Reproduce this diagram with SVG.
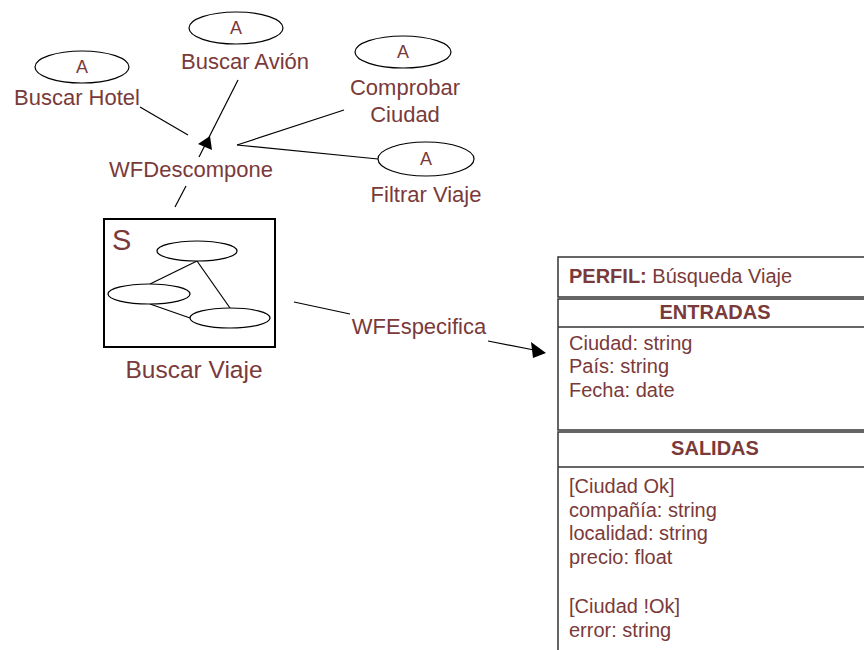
<svg xmlns="http://www.w3.org/2000/svg" width="864" height="650" viewBox="0 0 864 650">
  <style>
    text { font-family: "Liberation Sans", Arial, sans-serif; fill: #7a3a3a; }
    .lbl { font-size: 22px; text-anchor: middle; }
    .a { font-size: 18px; text-anchor: middle; }
    .oval { fill: #ffffff; stroke: #000000; stroke-width: 1.2; }
    .conn { stroke: #000000; stroke-width: 1.2; fill: none; }
    .head { fill: #000000; stroke: none; }
    .panel { fill: #ffffff; stroke: #333333; stroke-width: 1.5; }
    .ptxt { font-size: 20px; }
    .phdr { font-size: 20px; font-weight: bold; text-anchor: middle; }
  </style>

  <rect width="864" height="650" fill="#ffffff"/>

  <!-- connectors -->
  <g id="connectors">
    <line class="conn" x1="140" y1="107" x2="188" y2="135"/>
    <line class="conn" x1="238" y1="80" x2="199" y2="157"/>
    <line class="conn" x1="186" y1="186" x2="175" y2="207"/>
    <polygon class="head" points="198,144 210,136 212,150"/>
    <line class="conn" x1="344" y1="110" x2="237" y2="145"/>
    <line class="conn" x1="237" y1="145" x2="378" y2="159"/>
    <line class="conn" x1="294" y1="302" x2="350" y2="314"/>
    <line class="conn" x1="488" y1="341" x2="534" y2="350"/>
    <polygon class="head" points="531,342 546,353 533,358"/>
  </g>

  <!-- atomic activities -->
  <g id="buscar-hotel">
    <ellipse class="oval" cx="82" cy="67" rx="47" ry="16"/>
    <text class="a" x="82" y="73">A</text>
    <text class="lbl" x="77" y="105">Buscar Hotel</text>
  </g>
  <g id="buscar-avion">
    <ellipse class="oval" cx="236" cy="28" rx="47" ry="16"/>
    <text class="a" x="236" y="34">A</text>
    <text class="lbl" x="245" y="69">Buscar Avión</text>
  </g>
  <g id="comprobar-ciudad">
    <ellipse class="oval" cx="403" cy="52" rx="48" ry="16"/>
    <text class="a" x="403" y="58">A</text>
    <text class="lbl" x="405" y="95">Comprobar</text>
    <text class="lbl" x="405" y="122">Ciudad</text>
  </g>
  <g id="filtrar-viaje">
    <ellipse class="oval" cx="426" cy="159" rx="48" ry="17"/>
    <text class="a" x="426" y="165">A</text>
    <text class="lbl" x="426" y="202">Filtrar Viaje</text>
  </g>

  <!-- connector labels -->
  <g id="wfdescompone">
    <text class="lbl" x="191" y="177">WFDescompone</text>
  </g>
  <g id="wfespecifica">
    <text class="lbl" x="419" y="334">WFEspecifica</text>
  </g>

  <!-- composite service -->
  <g id="buscar-viaje">
    <rect x="104" y="219" width="171" height="128" fill="#ffffff" stroke="#000000" stroke-width="2"/>
    <text x="112" y="250" style="font-size:29px">S</text>
    <line class="conn" x1="197" y1="261" x2="150" y2="284"/>
    <line class="conn" x1="197" y1="261" x2="230" y2="308"/>
    <line class="conn" x1="150" y1="304" x2="190" y2="318"/>
    <ellipse class="oval" cx="197" cy="251" rx="40" ry="10"/>
    <ellipse class="oval" cx="149" cy="294" rx="41" ry="10"/>
    <ellipse class="oval" cx="230" cy="318" rx="40" ry="10"/>
    <text class="lbl" x="194" y="378" style="font-size:24.5px">Buscar Viaje</text>
  </g>

  <!-- profile panel -->
  <g id="perfil">
    <rect class="panel" x="558" y="257" width="320" height="40"/>
    <text class="ptxt" x="569" y="283"><tspan font-weight="bold">PERFIL:</tspan> Búsqueda Viaje</text>
  </g>
  <g id="entradas">
    <rect class="panel" x="558" y="299" width="320" height="131"/>
    <line stroke="#333333" stroke-width="1.5" x1="558" y1="327" x2="878" y2="327"/>
    <text class="phdr" x="715" y="319">ENTRADAS</text>
    <text class="ptxt" x="569" y="350">Ciudad: string</text>
    <text class="ptxt" x="569" y="373">País: string</text>
    <text class="ptxt" x="569" y="397">Fecha: date</text>
  </g>
  <g id="salidas">
    <rect class="panel" x="558" y="432" width="320" height="240"/>
    <line stroke="#333333" stroke-width="1.5" x1="558" y1="467" x2="878" y2="467"/>
    <text class="phdr" x="715" y="455">SALIDAS</text>
    <text class="ptxt" x="569" y="493">[Ciudad Ok]</text>
    <text class="ptxt" x="569" y="517">compañía: string</text>
    <text class="ptxt" x="569" y="540">localidad: string</text>
    <text class="ptxt" x="569" y="564">precio: float</text>
    <text class="ptxt" x="569" y="613">[Ciudad !Ok]</text>
    <text class="ptxt" x="569" y="637">error: string</text>
  </g>
</svg>
